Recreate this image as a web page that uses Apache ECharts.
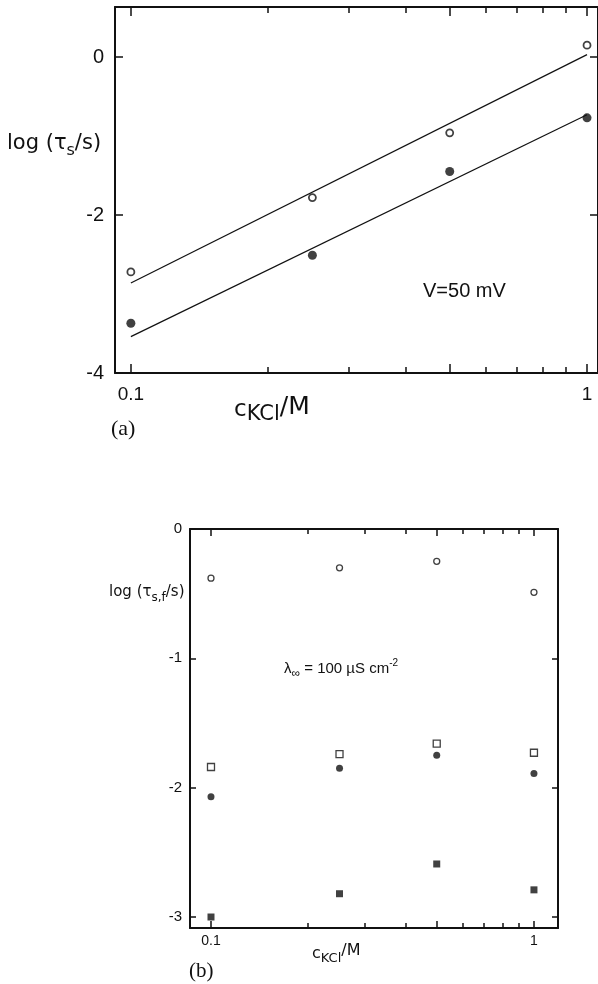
<!DOCTYPE html>
<html>
<head>
<meta charset="utf-8">
<script src="https://cdn.jsdelivr.net/npm/echarts@6/dist/echarts.min.js"></script>
<style>
  html, body { margin: 0; padding: 0; background: #fff; }
  #main { width: 598px; height: 984px; }
</style>
</head>
<body>
<div id="main"></div>
<script>
// panel (a): V = 50 mV
var concA = [0.1, 0.25, 0.5, 1];
var tauOpenA = [-2.72, -1.78, -0.96, 0.15];
var tauFilledA = [-3.37, -2.51, -1.45, -0.77];
// fitted straight lines (end points)
var fitConc = [0.1, 1];
var fitUpperA = [-2.86, 0.03];
var fitLowerA = [-3.54, -0.73];

// panel (b): lambda = 100 uS cm-2
var concB = [0.1, 0.25, 0.5, 1];
var openCircB = [-0.38, -0.30, -0.25, -0.49];
var openSqB = [-1.84, -1.74, -1.66, -1.73];
var filledCircB = [-2.07, -1.85, -1.75, -1.89];
var filledSqB = [-3.0, -2.82, -2.59, -2.79];

// ticks
var xMajorTicks = [0.1, 0.5, 1];
var xMinorTicks = [0.2, 0.3, 0.4, 0.6, 0.7, 0.8, 0.9];
var xLabels = [0.1, 1];
var yTicksA = [-4, -2, 0];
var yTicksB = [-3, -2, -1, 0];

var FONT = "'Liberation Sans', 'DejaVu Sans', sans-serif";
var NAMEFONT = "'DejaVu Sans', 'Liberation Sans', sans-serif";
var SERIF = "'Liberation Serif', 'DejaVu Serif', serif";
var INK = '#111';

function pairs(xs, ys) {
  return xs.map(function (x, i) { return [x, ys[i]]; });
}

// 4 x axes per grid: bottom major (labels), bottom minor, top major, top minor
function xAxes(g, min, max, fs, margin, majLen, minLen) {
  function ax(pos, ticks, len, labels, line) {
    return {
      type: 'log', logBase: 10, gridIndex: g, position: pos, min: min, max: max,
      axisLine: { show: line, onZero: false, lineStyle: { color: INK, width: 2 } },
      axisTick: { show: true, inside: true, length: len, customValues: ticks,
                  lineStyle: { color: INK, width: 1.5 } },
      axisLabel: labels ? { show: true, customValues: xLabels, fontSize: fs, margin: margin,
                            color: INK, fontFamily: FONT } : { show: false },
      splitLine: { show: false },
      minorTick: { show: false }
    };
  }
  return [
    ax('bottom', xMajorTicks, majLen, true, true),
    ax('bottom', xMinorTicks, minLen, false, false),
    ax('top', xMajorTicks, majLen, false, true),
    ax('top', xMinorTicks, minLen, false, false)
  ];
}

function yAxes(g, min, max, ticks, fs, margin, len) {
  function ax(pos, labels) {
    return {
      type: 'value', gridIndex: g, position: pos, min: min, max: max,
      axisLine: { show: true, onZero: false, lineStyle: { color: INK, width: 2 } },
      axisTick: { show: true, inside: true, length: len, customValues: ticks,
                  lineStyle: { color: INK, width: 1.5 } },
      axisLabel: labels ? { show: true, customValues: ticks, fontSize: fs, margin: margin,
                            color: INK, fontFamily: FONT } : { show: false },
      splitLine: { show: false }
    };
  }
  return [ax('left', true), ax('right', false)];
}

var myChart = echarts.init(document.getElementById('main'), null, { renderer: 'canvas' });

myChart.setOption({
  animation: false,
  backgroundColor: '#fff',
  grid: [
    { left: 115, top: 7, right: -2, bottom: 611 },
    { left: 190, top: 529, right: 40, bottom: 56 }
  ],
  xAxis: xAxes(0, 0.0923, 1.057, 19, 12, 9, 6).concat(xAxes(1, 0.0861, 1.187, 14, 6, 7, 5)),
  yAxis: yAxes(0, -4, 0.633, yTicksA, 20, 11, 8).concat(yAxes(1, -3.085, 0, yTicksB, 15, 8, 6)),
  series: [
    {
      type: 'line', xAxisIndex: 0, yAxisIndex: 0, data: pairs(fitConc, fitUpperA),
      showSymbol: false, lineStyle: { color: INK, width: 1.2 }, z: 1
    },
    {
      type: 'line', xAxisIndex: 0, yAxisIndex: 0, data: pairs(fitConc, fitLowerA),
      showSymbol: false, lineStyle: { color: INK, width: 1.2 }, z: 1
    },
    {
      type: 'scatter', xAxisIndex: 0, yAxisIndex: 0, data: pairs(concA, tauOpenA),
      symbol: 'circle', symbolSize: 7,
      itemStyle: { color: '#fff', borderColor: INK, borderWidth: 1.8 }, z: 3
    },
    {
      type: 'scatter', xAxisIndex: 0, yAxisIndex: 0, data: pairs(concA, tauFilledA),
      symbol: 'circle', symbolSize: 9, itemStyle: { color: INK }, z: 3
    },
    {
      type: 'scatter', xAxisIndex: 4, yAxisIndex: 2, data: pairs(concB, openCircB),
      symbol: 'circle', symbolSize: 6,
      itemStyle: { color: '#fff', borderColor: INK, borderWidth: 1.3 }
    },
    {
      type: 'scatter', xAxisIndex: 4, yAxisIndex: 2, data: pairs(concB, openSqB),
      symbol: 'rect', symbolSize: 7,
      itemStyle: { color: '#fff', borderColor: INK, borderWidth: 1.3 }
    },
    {
      type: 'scatter', xAxisIndex: 4, yAxisIndex: 2, data: pairs(concB, filledCircB),
      symbol: 'circle', symbolSize: 7, itemStyle: { color: INK }
    },
    {
      type: 'scatter', xAxisIndex: 4, yAxisIndex: 2, data: pairs(concB, filledSqB),
      symbol: 'rect', symbolSize: 7, itemStyle: { color: INK }
    }
  ],
  graphic: [
    // panel (a) labels
    {
      type: 'text', left: 7, top: 133,
      style: {
        text: '{n|log (τ}{s|s}{n|/s)}', fill: INK,
        rich: {
          n: { fontSize: 21, fontFamily: NAMEFONT, lineHeight: 30, verticalAlign: 'middle' },
          s: { fontSize: 16, fontFamily: NAMEFONT, lineHeight: 16, verticalAlign: 'bottom' }
        }
      }
    },
    {
      type: 'text', left: 234, top: 395,
      style: {
        text: '{c|c}{s|KCl}{n|/M}', fill: INK,
        rich: {
          c: { fontSize: 23, fontFamily: NAMEFONT, lineHeight: 30, verticalAlign: 'middle' },
          n: { fontSize: 25, fontFamily: NAMEFONT, lineHeight: 27, verticalAlign: 'top' },
          s: { fontSize: 21, fontFamily: NAMEFONT, lineHeight: 20, verticalAlign: 'bottom' }
        }
      }
    },
    {
      type: 'text', left: 423, top: 281,
      style: { text: 'V=50 mV', fill: INK, fontSize: 20, fontFamily: FONT }
    },
    {
      type: 'text', left: 111, top: 418,
      style: { text: '(a)', fill: INK, fontSize: 22, fontFamily: SERIF }
    },
    // panel (b) labels
    {
      type: 'text', left: 109, top: 585,
      style: {
        text: '{n|log (τ}{s|s,f}{n|/s)}', fill: INK,
        rich: {
          n: { fontSize: 15, fontFamily: NAMEFONT, lineHeight: 22, verticalAlign: 'middle' },
          s: { fontSize: 12, fontFamily: NAMEFONT, lineHeight: 12, verticalAlign: 'bottom' }
        }
      }
    },
    {
      type: 'text', left: 284, top: 658,
      style: {
        text: '{n|λ}{s|∞}{n| = 100 µS cm}{p|-2}', fill: INK,
        rich: {
          n: { fontSize: 15, fontFamily: FONT, lineHeight: 22, verticalAlign: 'middle' },
          s: { fontSize: 12, fontFamily: FONT, lineHeight: 12, verticalAlign: 'bottom' },
          p: { fontSize: 10, fontFamily: FONT, lineHeight: 10, verticalAlign: 'top' }
        }
      }
    },
    {
      type: 'text', left: 312, top: 943,
      style: {
        text: '{c|c}{s|KCl}{n|/M}', fill: INK,
        rich: {
          c: { fontSize: 16, fontFamily: NAMEFONT, lineHeight: 22, verticalAlign: 'middle' },
          n: { fontSize: 16, fontFamily: NAMEFONT, lineHeight: 20, verticalAlign: 'top' },
          s: { fontSize: 13, fontFamily: NAMEFONT, lineHeight: 13, verticalAlign: 'bottom' }
        }
      }
    },
    {
      type: 'text', left: 189, top: 961,
      style: { text: '(b)', fill: INK, fontSize: 21, fontFamily: SERIF }
    }
  ]
});
</script>
</body>
</html>
